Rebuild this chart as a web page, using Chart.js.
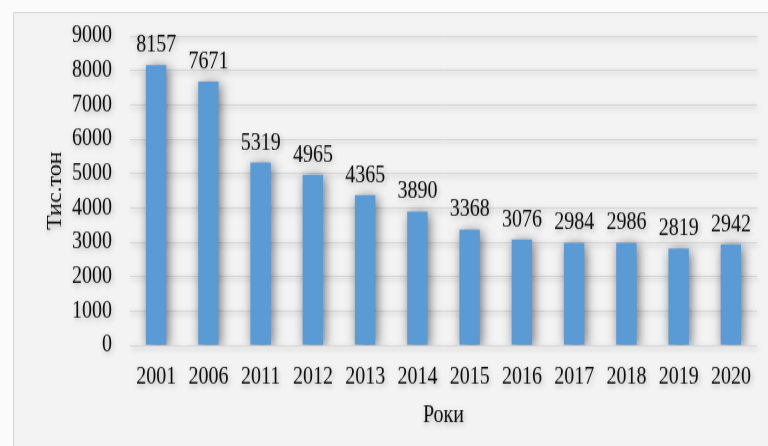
<!DOCTYPE html>
<html>
<head>
<meta charset="utf-8">
<script src="https://cdn.jsdelivr.net/npm/chart.js@4.4.1/dist/chart.umd.min.js"></script>
<style>
html,body{margin:0;padding:0;background:#fbfbfb;overflow:hidden;}
#wrap{width:768px;height:446px;position:relative;}
#c{width:768px;height:446px;display:block;}
</style>
</head>
<body>
<div id="wrap"><canvas id="c" width="768" height="372" style="width:768px;height:446px;"></canvas></div>
<script>
const categories = ["2001","2006","2011","2012","2013","2014","2015","2016","2017","2018","2019","2020"];
const values = [8157,7671,5319,4965,4365,3890,3368,3076,2984,2986,2819,2942];
const yTicks = [0,1000,2000,3000,4000,5000,6000,7000,8000,9000];
const yTitle = "Тис.тон";
const xTitle = "Роки";

const FONT = "'Liberation Serif','Times New Roman',serif";
const TEXT = "#0d0d0d";

const bgPlugin = {
  id: 'bg',
  beforeDraw(chart) {
    const ctx = chart.ctx;
    ctx.save();
    ctx.fillStyle = '#fbfbfb';
    ctx.fillRect(0, 0, chart.width, chart.height);
    ctx.fillStyle = '#f3f3f3';
    ctx.fillRect(13.5, 10.5, chart.width - 13.5, chart.height - 10.5);
    ctx.strokeStyle = '#d4d4d4';
    ctx.lineWidth = 1;
    ctx.beginPath();
    ctx.moveTo(13.5, chart.height);
    ctx.lineTo(13.5, 10.5);
    ctx.lineTo(chart.width, 10.5);
    ctx.stroke();
    ctx.restore();
    ctx.shadowColor = 'rgba(0,0,0,0.28)';
    ctx.shadowBlur = 5;
    ctx.shadowOffsetX = 1;
    ctx.shadowOffsetY = 2;
  },
  afterDraw(chart) {
    const ctx = chart.ctx;
    ctx.shadowColor = 'rgba(0,0,0,0)';
    ctx.shadowBlur = 0;
    ctx.shadowOffsetX = 0;
    ctx.shadowOffsetY = 0;
  }
};

const shadowPlugin = {
  id: 'shadow',
  beforeDatasetsDraw(chart) {
    const ctx = chart.ctx;
    ctx.save();
    ctx.shadowColor = 'rgba(0,0,0,0.55)';
    ctx.shadowBlur = 11;
    ctx.shadowOffsetX = 2;
    ctx.shadowOffsetY = 2;
  },
  afterDatasetsDraw(chart) {
    chart.ctx.restore();
  }
};

const labelPlugin = {
  id: 'valueLabels',
  afterDatasetsDraw(chart) {
    const ctx = chart.ctx;
    const meta = chart.getDatasetMeta(0);
    ctx.save();
    ctx.font = "20px " + FONT;
    ctx.fillStyle = TEXT;
    ctx.textAlign = 'center';
    ctx.textBaseline = 'alphabetic';
    ctx.shadowColor = 'rgba(0,0,0,0.28)';
    ctx.shadowBlur = 5;
    ctx.shadowOffsetX = 1;
    ctx.shadowOffsetY = 2;
    meta.data.forEach((bar, i) => {
      ctx.fillText(String(chart.data.datasets[0].data[i]), bar.x, bar.y - 11);
    });
    ctx.restore();
  }
};

new Chart(document.getElementById('c'), {
  type: 'bar',
  data: {
    labels: categories,
    datasets: [{
      data: values,
      backgroundColor: '#5b9bd5',
      borderWidth: 0,
      barPercentage: 0.39,
      categoryPercentage: 1.0
    }]
  },
  options: {
    responsive: false,
    maintainAspectRatio: false,
    animation: false,
    events: [],
    layout: { padding: { left: 44, right: 11, top: 30, bottom: 13 } },
    plugins: {
      legend: { display: false },
      tooltip: { enabled: false },
      title: { display: false }
    },
    scales: {
      x: {
        grid: { display: false, drawTicks: false },
        border: { display: false },
        ticks: { color: TEXT, font: { family: FONT, size: 20 }, padding: 15, maxRotation: 0, autoSkip: false },
        title: { display: true, text: xTitle, color: TEXT, font: { family: FONT, size: 20 }, padding: 0 },
        afterFit(s) { s.height = 71; }
      },
      y: {
        min: 0, max: 9000,
        afterBuildTicks(s) { s.ticks = yTicks.map(v => ({ value: v })); },
        grid: { color: '#d6d6d6', lineWidth: 1, drawTicks: false },
        border: { display: false },
        ticks: { color: TEXT, font: { family: FONT, size: 20 }, padding: 18, callback: v => String(v) },
        title: { display: true, text: yTitle, color: TEXT, font: { family: FONT, size: 20 }, padding: 0 },
        afterFit(s) { s.width = 86; }
      }
    }
  },
  plugins: [bgPlugin, shadowPlugin, labelPlugin]
});
</script>
</body>
</html>
